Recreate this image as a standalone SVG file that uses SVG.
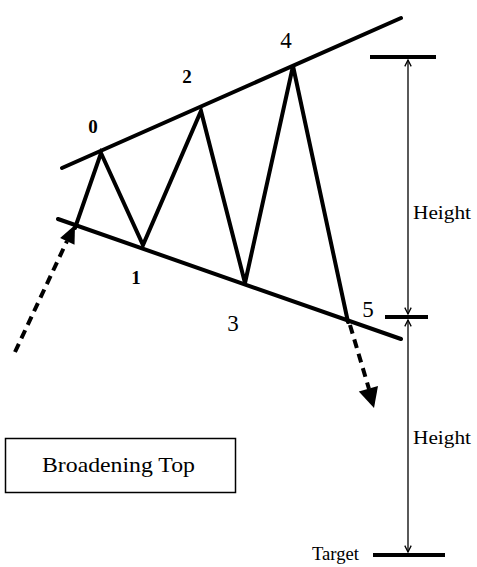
<svg xmlns="http://www.w3.org/2000/svg" width="477" height="567" viewBox="0 0 477 567">
<style>
.thick{stroke:#000;stroke-width:4;fill:none;stroke-linecap:round;stroke-linejoin:miter}
.dash{stroke:#000;stroke-width:4;fill:none;stroke-dasharray:9,6}
.thin{stroke:#000;stroke-width:1.3;fill:none}
.bar{stroke:#000;stroke-width:4}
text{font-family:"Liberation Serif","Times New Roman",serif;fill:#000}
.lb{font-weight:bold;font-size:19px}
.lr{font-size:23px}
.sm{font-size:18px}
</style>
<defs>
<marker id="ah" viewBox="0 0 10 10" refX="9" refY="5" markerWidth="8" markerHeight="8" markerUnits="userSpaceOnUse" orient="auto-start-reverse">
<path d="M1,1 L9,5 L1,9" fill="none" stroke="#000" stroke-width="1.6"/>
</marker>
</defs>
<rect width="477" height="567" fill="#fff"/>
<g id="connectors">
<line class="thick" x1="62" y1="168" x2="401" y2="18"/>
<line class="thick" x1="58" y1="219" x2="401" y2="339"/>
<polyline class="thick" points="75,228 101,153 143,245 201,111 245,283 293,66 348,322"/>
<line class="dash" x1="15" y1="352" x2="67" y2="241"/>
<polygon points="75,225 74.5,244.7 60.1,237.9" fill="#000"/>
<line class="dash" x1="350" y1="325" x2="369" y2="389"/>
<polygon points="374,408 378,386 358.8,391.6" fill="#000"/>
<line class="bar" x1="370" y1="57" x2="436" y2="57"/>
<line class="bar" x1="385" y1="317" x2="428" y2="317"/>
<line class="bar" x1="373" y1="555" x2="445" y2="555"/>
<line class="thin" x1="408" y1="60" x2="408" y2="314" marker-start="url(#ah)" marker-end="url(#ah)"/>
<line class="thin" x1="408" y1="320" x2="408" y2="552" marker-start="url(#ah)" marker-end="url(#ah)"/>
</g>
<g id="labels">
<text class="lb" x="93" y="133" text-anchor="middle">0</text>
<text class="lb" x="136" y="284" text-anchor="middle">1</text>
<text class="lb" x="187" y="83" text-anchor="middle">2</text>
<text class="lr" x="233" y="331" text-anchor="middle">3</text>
<text class="lr" x="286" y="48" text-anchor="middle">4</text>
<text class="lr" x="368" y="317" text-anchor="middle">5</text>
<text class="sm" x="413" y="219" textLength="58" lengthAdjust="spacingAndGlyphs">Height</text>
<text class="sm" x="413" y="444" textLength="58" lengthAdjust="spacingAndGlyphs">Height</text>
<text class="sm" x="312" y="560" textLength="47" lengthAdjust="spacingAndGlyphs">Target</text>
</g>
<g id="box">
<rect x="5.5" y="438.5" width="230" height="54" fill="#fff" stroke="#000" stroke-width="1.5"/>
<text x="42" y="472" font-size="21" textLength="153" lengthAdjust="spacingAndGlyphs">Broadening Top</text>
</g>
</svg>
